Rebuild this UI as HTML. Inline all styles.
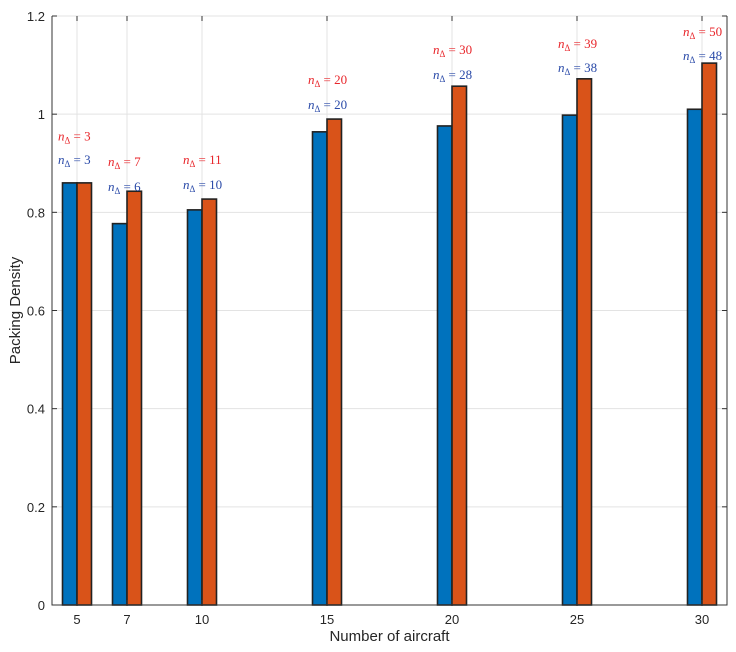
<!DOCTYPE html>
<html><head><style>
body{margin:0;background:#fff;}
svg{display:block;font-family:"Liberation Sans",sans-serif;}
</style></head><body>
<svg id="c" width="736" height="652"></svg>
<script>
const categories=[5,7,10,15,20,25,30];
const seriesBlue=[0.860,0.777,0.805,0.964,0.976,0.998,1.010];
const seriesOrange=[0.860,0.843,0.827,0.990,1.057,1.072,1.104];
const labelsRed=[3,7,11,20,30,39,50];
const labelsBlue=[3,6,10,20,28,38,48];
const labelYRed=[0.955,0.903,0.907,1.07,1.131,1.143,1.167];
const labelYBlue=[0.907,0.852,0.856,1.019,1.08,1.094,1.119];
const yTicks=[0,0.2,0.4,0.6,0.8,1,1.2];
const yTickLabels=["0","0.2","0.4","0.6","0.8","1","1.2"];

const L=52,R=727,T=16,B=605,xMin=4,xMax=31,yMin=0,yMax=1.2;
const sx=v=>L+(v-xMin)/(xMax-xMin)*(R-L);
const sy=v=>B-(v-yMin)/(yMax-yMin)*(B-T);
const svg=document.getElementById('c');
const NS='http://www.w3.org/2000/svg';
function mk(tag,attrs,parent){const e=document.createElementNS(NS,tag);for(const k in attrs)e.setAttribute(k,attrs[k]);(parent||svg).appendChild(e);return e;}
yTicks.forEach((t,i)=>{
 const g=mk('line',{x1:L,x2:R,y1:sy(t),y2:sy(t),stroke:'#e3e3e3','stroke-width':1});
 
 
});
categories.forEach(c=>{
 const g=mk('line',{x1:sx(c),x2:sx(c),y1:T,y2:B,stroke:'#e3e3e3','stroke-width':1});
 
 
});
const bw=0.58;
categories.forEach((c,i)=>{
 const b=mk('rect',{x:sx(c-bw),y:sy(seriesBlue[i]),width:sx(c)-sx(c-bw),height:sy(0)-sy(seriesBlue[i]),fill:'#0072bd',stroke:'#222','stroke-width':1.6});
 
 
 const o=mk('rect',{x:sx(c),y:sy(seriesOrange[i]),width:sx(c+bw)-sx(c),height:sy(0)-sy(seriesOrange[i]),fill:'#d95319',stroke:'#222','stroke-width':1.6});
 
 
 [[labelsRed[i],labelYRed[i],'#e8262b'],[labelsBlue[i],labelYBlue[i],'#2a4aa8']].forEach(([v,y,col])=>{
  const t=mk('text',{x:sx(c)-19,y:sy(y)+4,fill:col,'font-family':'"Liberation Serif",serif','font-size':13});
  
  
  t.innerHTML='<tspan font-style="italic">n</tspan><tspan font-size="9" dy="3">Δ</tspan><tspan dy="-3"> = '+v+'</tspan>';
 });
});
const ax=mk('path',{d:`M${L},${T}V${B}H${R}V${T}`,fill:'none',stroke:'#333','stroke-width':1});


yTicks.forEach((t,i)=>{
 mk('line',{x1:L,x2:L+5,y1:sy(t),y2:sy(t),stroke:'#333'});
 mk('line',{x1:R,x2:R-5,y1:sy(t),y2:sy(t),stroke:'#333'});
 const tl=mk('text',{x:L-7,y:sy(t)+5,'text-anchor':'end','font-size':13,fill:'#262626'});
 
 
 tl.textContent=yTickLabels[i];
});
categories.forEach(c=>{
 mk('line',{x1:sx(c),x2:sx(c),y1:B,y2:B-5,stroke:'#333'});
 mk('line',{x1:sx(c),x2:sx(c),y1:T,y2:T+5,stroke:'#333'});
 const tl=mk('text',{x:sx(c),y:B+19,'text-anchor':'middle','font-size':13,fill:'#262626'});
 
 
 tl.textContent=c;
});
const xt=mk('text',{x:(L+R)/2,y:641,'text-anchor':'middle','font-size':15,fill:'#262626'});


xt.textContent='Number of aircraft';
const yt=mk('text',{x:0,y:0,'text-anchor':'middle','font-size':15,fill:'#262626',transform:`translate(20,${(T+B)/2}) rotate(-90)`});


yt.textContent='Packing Density';
</script>
</body></html>
